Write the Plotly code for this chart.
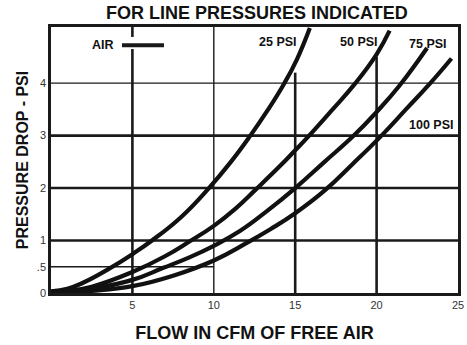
import plotly.graph_objects as go

# Flow (CFM of free air) vs. pressure drop (PSI) for each line pressure
flow_25 = [0, 1, 2, 3.5, 5, 6.2, 8, 9.7, 11, 12.2, 13.3, 14.3, 15.1, 15.9]
drop_25 = [0.03, 0.08, 0.2, 0.45, 0.74, 1.0, 1.45, 2.0, 2.48, 2.98, 3.48, 3.98, 4.45, 5.05]

flow_50 = [0, 1, 2.5, 5, 7, 8.5, 10, 11.3, 12.6, 14, 15, 15.8, 17.3, 18.7, 20, 20.8]
drop_50 = [0.02, 0.04, 0.12, 0.4, 0.7, 0.98, 1.28, 1.6, 1.98, 2.4, 2.72, 2.98, 3.5, 4.0, 4.55, 5.0]

flow_75 = [0, 1, 2.5, 5, 6.9, 8.5, 10, 11.6, 13.3, 15, 16.8, 18.6, 20, 21.4, 23.1]
drop_75 = [0.01, 0.03, 0.08, 0.25, 0.48, 0.68, 0.9, 1.18, 1.57, 2.0, 2.5, 3.0, 3.45, 3.95, 4.67]

flow_100 = [0, 2.5, 5, 7.5, 10, 12, 13.5, 15, 16.8, 18.5, 20.3, 21.8, 23.3, 24.6]
drop_100 = [0.0, 0.04, 0.13, 0.33, 0.62, 0.95, 1.22, 1.52, 1.95, 2.45, 3.0, 3.5, 4.0, 4.47]

series_names = ["25 PSI", "50 PSI", "75 PSI", "100 PSI"]

x_ticks = [5, 10, 15, 20, 25]
y_ticks = [0, 0.5, 1, 2, 3, 4]
y_tick_labels = ["0", ".5", "1", "2", "3", "4"]

X_MAX = 25
Y_MAX = 5.07

fig = go.Figure()

for xs, ys, name in zip([flow_25, flow_50, flow_75, flow_100],
                        [drop_25, drop_50, drop_75, drop_100], series_names):
    fig.add_trace(go.Scatter(
        x=xs, y=ys, mode="lines", name=name,
        line=dict(color="#111111", width=4.2, shape="spline", smoothing=1.3),
        showlegend=False, hoverinfo="skip",
    ))

THICK = 2.6
THIN = 1.4
INK = "#1a1a1a"

def vline(x, y0, y1, w):
    fig.add_shape(type="line", x0=x, x1=x, y0=y0, y1=y1,
                  line=dict(color=INK, width=w), layer="below")

def hline(y, x0, x1, w):
    fig.add_shape(type="line", x0=x0, x1=x1, y0=y, y1=y,
                  line=dict(color=INK, width=w), layer="below")

# vertical grid
vline(5, 0, 4.65, THICK)
vline(5, 4.88, Y_MAX, THICK)
vline(10, 0, Y_MAX, THIN)
vline(15, 0, 4.2, THICK)
vline(20, 0, 4.5, THICK)

# horizontal grid
hline(4, 0, X_MAX, THIN)
for yv in [1, 2, 3]:
    hline(yv, 0, X_MAX, THICK)
hline(0.5, 0, 10, THIN)

# AIR marker
fig.add_shape(type="line", x0=4.36, x1=6.94, y0=4.72, y1=4.72,
              line=dict(color=INK, width=4))

label_font = dict(family="Liberation Sans, Arial, sans-serif", size=12.5, color="#111111")
fig.add_annotation(x=3.99, y=4.72, text="<b>AIR</b>", showarrow=False,
                   xanchor="right", yanchor="middle", font=label_font)

# line pressure labels
for name, lx, ly in [("25 PSI", 13.95, 4.78), ("50 PSI", 18.9, 4.78),
                     ("75 PSI", 23.15, 4.74), ("100 PSI", 23.35, 3.2)]:
    fig.add_annotation(x=lx, y=ly, text=f"<b>{name}</b>", showarrow=False,
                       xanchor="center", yanchor="middle", font=label_font)

tick_font = dict(family="Liberation Sans, Arial, sans-serif", size=11, color="#333333")

fig.update_layout(
    width=467, height=345,
    margin=dict(l=51, r=9, t=27, b=52, autoexpand=False),
    paper_bgcolor="white", plot_bgcolor="white",
    title=dict(text="<b>FOR LINE PRESSURES INDICATED</b>",
               x=0.55, xanchor="center", y=0.962, yanchor="middle",
               font=dict(family="Liberation Sans, Arial, sans-serif", size=18, color="#111111")),
    xaxis=dict(
        range=[0, X_MAX], tickvals=x_ticks, ticktext=[str(v) for v in x_ticks],
        showgrid=False, zeroline=False, automargin=False,
        showline=True, mirror=True, linecolor=INK, linewidth=2.5,
        ticks="", ticklen=0, tickfont=tick_font,
        title=dict(text="<b>FLOW IN CFM OF FREE AIR</b>", standoff=17,
                   font=dict(family="Liberation Sans, Arial, sans-serif", size=18, color="#111111")),
    ),
    yaxis=dict(
        range=[0, Y_MAX], tickvals=y_ticks, ticktext=y_tick_labels,
        showgrid=False, zeroline=False, automargin=False,
        showline=True, mirror=True, linecolor=INK, linewidth=2.5,
        ticks="", ticklen=0, tickfont=tick_font,
        title=dict(text="<b>PRESSURE DROP - PSI</b>", standoff=5,
                   font=dict(family="Liberation Sans, Arial, sans-serif", size=16, color="#111111")),
    ),
)

fig.write_html("out.html")
